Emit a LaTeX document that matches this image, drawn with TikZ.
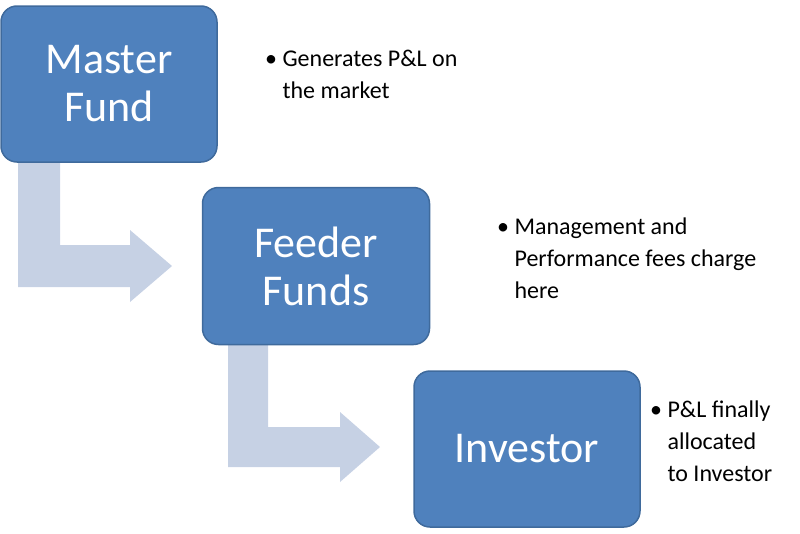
\documentclass[tikz,border=0pt]{standalone}
\usepackage{fontspec}
\setmainfont{Carlito}
\begin{document}
\begin{tikzpicture}[x=1pt,y=-1pt,
  box/.style={draw=boxedge,line width=1.5pt,fill=boxfill,rounded corners=16pt,text=white,font=\fontsize{44}{48}\selectfont,align=center},
  bul/.style={anchor=north west,align=left,font=\fontsize{24}{32}\selectfont,inner sep=0pt},
  bent/.style={fill=arrowfill,draw=none}]
\definecolor{boxfill}{HTML}{4F81BD}
\definecolor{boxedge}{HTML}{3F6A9C}
\definecolor{arrowfill}{HTML}{C6D1E4}
\useasboundingbox (0,0) rectangle (800,533);
\fill[arrowfill] (18,162)--(18,287)--(130,287)--(130,302)--(172,266)--(130,230)--(130,245)--(60,245)--(60,162)--cycle;
\fill[arrowfill] (228,345)--(228,467)--(340,467)--(340,482)--(380,447)--(340,412)--(340,427)--(268,427)--(268,345)--cycle;
\node[box,minimum width=216pt,minimum height=156pt] (m) at (109,84) {Master\\Fund};
\node[box,minimum width=227pt,minimum height=157pt] (f) at (316,266) {Feeder\\Funds};
\node[box,minimum width=226pt,minimum height=156pt] (i) at (527,449) {Investor};
\node[bul] (b1) at (265,50) {\textbullet\ Generates P\&L on\\\phantom{\textbullet\ }the market};
\node[bul] (b2) at (497,218) {\textbullet\ Management and\\\phantom{\textbullet\ }Performance fees charge\\\phantom{\textbullet\ }here};
\node[bul] (b3) at (650,401) {\textbullet\ P\&L finally\\\phantom{\textbullet\ }allocated\\\phantom{\textbullet\ }to Investor};
\end{tikzpicture}
\end{document}
